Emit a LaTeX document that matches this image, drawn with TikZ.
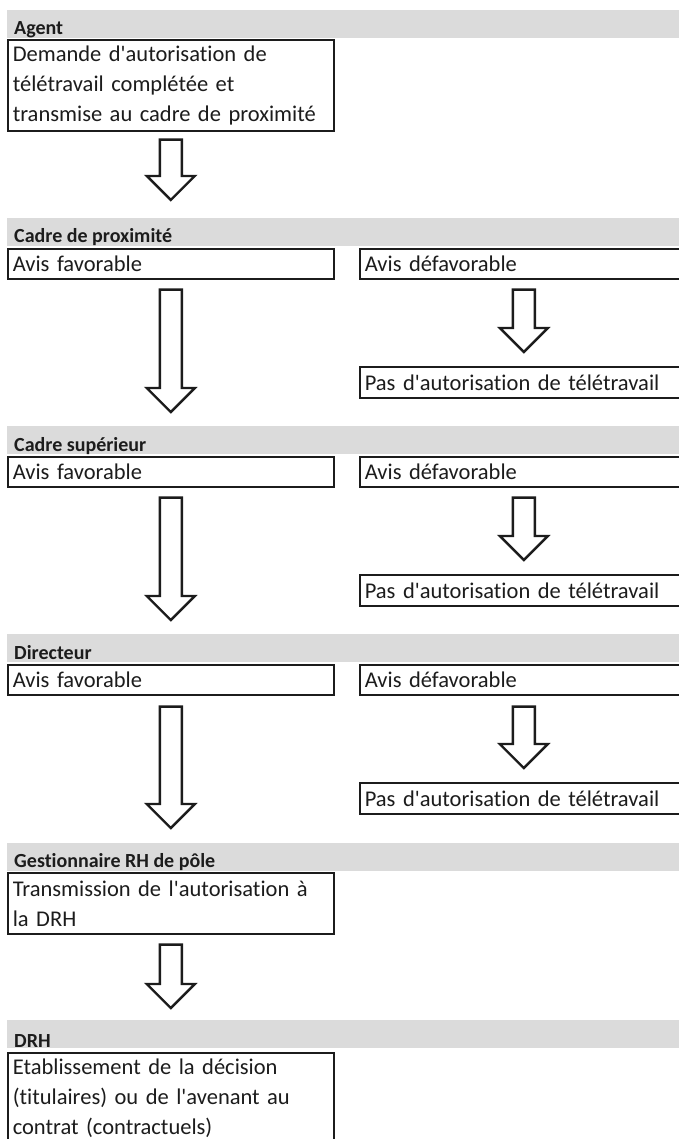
\documentclass[tikz,border=0pt]{standalone}
\usepackage{fontspec}
\setmainfont{Carlito}[Ligatures=TeXOff, RawFeature={-liga}]
\usetikzlibrary{calc}
\definecolor{band}{RGB}{219,219,219}
\definecolor{ink}{RGB}{28,28,28}
\tikzset{
  box/.style={draw=ink, line width=1.6pt, anchor=north west, inner xsep=5pt, inner ysep=0pt,
    align=left, font=\fontsize{22.5}{30}\selectfont, text=ink},
  leftbox/.style={box, minimum width=326pt, text width=316pt},
  rightbox/.style={box, minimum width=328pt, text width=318pt},
  onebox/.style={minimum height=30pt},
  lbl/.style={anchor=base west, inner sep=0pt, font=\fontsize{20}{24}\selectfont\bfseries, text=ink},
  bandfill/.style={fill=band, draw=none},
  barrow/.style={draw=ink, line width=2.4pt, fill=white, line join=miter},
}
\newcommand\blockarrow[4]{%
  \coordinate (ba-s) at ($(#1.south)+(0,#3)$);
  \coordinate (ba-t) at ($(#1.south |- #2.north)+(0,-#4)$);
  \draw[barrow] ($(ba-s)+(-11,0)$) -- ($(ba-t)+(-11,-24)$) -- ($(ba-t)+(-24,-24)$) -- (ba-t)
    -- ($(ba-t)+(24,-24)$) -- ($(ba-t)+(11,-24)$) -- ($(ba-s)+(11,0)$) -- cycle;
}
\begin{document}
\begin{tikzpicture}[x=1pt,y=-1pt]
\useasboundingbox (0,0) rectangle (679,1139);
\clip (0,0) rectangle (679,1139);
\fill[white] (0,0) rectangle (679,1139);
% bands
\foreach \t in {10,218,426,634,843,1020}
  \path[bandfill] (7,\t) rectangle (679,\t+28);
% section 1
\node[lbl] (l1) at (14,35) {Agent};
\node[leftbox, minimum height=91pt] (agent) at (7,39) {Demande d'autorisation de\\télétravail complétée et\\transmise au cadre de proximité};
% section 2
\node[lbl] (l2) at (14,243) {Cadre de proximité};
\node[leftbox, onebox] (fav2) at (7,248) {Avis favorable};
\node[rightbox, onebox] (def2) at (359,248) {Avis défavorable};
\node[rightbox, minimum height=31pt] (pas2) at (359,366) {Pas d'autorisation de télétravail};
% section 3
\node[lbl] (l3) at (14,451) {Cadre supérieur};
\node[leftbox, onebox] (fav3) at (7,456) {Avis favorable};
\node[rightbox, onebox] (def3) at (359,456) {Avis défavorable};
\node[rightbox, minimum height=31pt] (pas3) at (359,574) {Pas d'autorisation de télétravail};
% section 4
\node[lbl] (l4) at (14,659) {Directeur};
\node[leftbox, onebox] (fav4) at (7,664) {Avis favorable};
\node[rightbox, onebox] (def4) at (359,664) {Avis défavorable};
\node[rightbox, minimum height=31pt] (pas4) at (359,782) {Pas d'autorisation de télétravail};
% section 5
\node[lbl] (l5) at (14,867) {Gestionnaire RH de pôle};
\node[leftbox, minimum height=61pt] (gest) at (7,872) {Transmission de l'autorisation à\\la DRH};
% section 6
\node[lbl] (l6) at (14,1047) {DRH};
\node[leftbox, minimum height=91pt] (drh) at (7,1052) {Etablissement de la décision\\(titulaires) ou de l'avenant au\\contrat (contractuels)};
% arrows
\blockarrow{agent}{fav2}{8}{48}
\blockarrow{fav2}{fav3}{10}{44}
\blockarrow{def2}{pas2}{10}{14}
\blockarrow{fav3}{fav4}{10}{44}
\blockarrow{def3}{pas3}{10}{14}
\blockarrow{fav4}{gest}{11}{44}
\blockarrow{def4}{pas4}{11}{14}
\blockarrow{gest}{drh}{10}{44}
\end{tikzpicture}
\end{document}
